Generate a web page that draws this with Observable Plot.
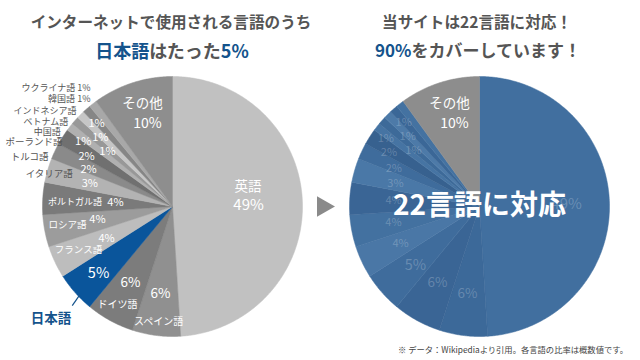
<!DOCTYPE html>
<html><head><meta charset="utf-8">
<script src="https://cdn.jsdelivr.net/npm/d3@7"></script>
<script src="https://cdn.jsdelivr.net/npm/@observablehq/plot@0.6"></script>
<style>
body{margin:0;width:640px;height:360px;overflow:hidden;background:#fff;position:relative;font-family:"Noto Sans CJK JP","Noto Sans",sans-serif}
#chart{position:absolute;left:0;top:0}
.t{position:absolute;transform:translateX(-50%);white-space:nowrap;font-weight:bold;color:#555;line-height:1}
.b{color:#14538c}
.cap{position:absolute;right:12px;top:345px;font-size:8.3px;color:#444;line-height:1;white-space:nowrap}
</style></head><body>
<div id="chart"></div>
<div class="t" style="left:171px;top:14px;font-size:15.6px">インターネットで使用される言語のうち</div>
<div class="t" style="left:172px;top:41px;font-size:18px"><span class="b">日本語</span>はたった<span class="b">5%</span></div>
<div class="t" style="left:477px;top:14px;font-size:15.6px">当サイトは22言語に対応！</div>
<div class="t" style="left:478px;top:41px;font-size:17px"><span class="b">90%</span>をカバーしています！</div>
<div class="cap">※ データ：Wikipediaより引用。各言語の比率は概数値です。</div>
<script>
// ---- data ----
const languages = ["英語","スペイン語","ドイツ語","日本語","フランス語","ロシア語","ポルトガル語","イタリア語","トルコ語","ポーランド語","中国語","ベトナム語","インドネシア語","韓国語","ウクライナ語","その他"];
const shares = [49,6,6,5,4,4,4,3,2,2,1,1,1,1,1,10];
const rightTitle = "22言語に対応";

// ---- styles ----
const leftColors = ["#c1c1c1","#909090","#7c7c7c","#0a559b","#bdbdbd","#9c9c9c","#7a7a7a","#b3b3b3","#8a8a8a","#707070","#b0b0b0","#989898","#c6c6c6","#868686","#a8a8a8","#8e8e8e"];
const rightColors = ["#416f9f","#3c6999","#3a6595","#3f6c9c","#4a77a6","#4371a0","#3a6595","#4a78a7","#3f6c9c","#37618f","#4674a3","#3d6a99","#4d7aa8","#3b6797","#4472a1","#8d8d8d"];
// label layout: radius fraction & angle offset (deg) from slice mid-angle
const leftNameLayout = [
  {r:.60,da:-12.9,size:13.5,fill:"#fff"},
  {r:.89,da:-0.3,size:10,fill:"#fff"},
  {r:.865,da:0.5,size:10,fill:"#fff"},
  null,
  {r:.795,da:0.6,size:9.5,fill:"#fff"},
  {r:.82,da:1.1,size:9.5,fill:"#fff"},
  {r:.75,da:-1.2,size:9,fill:"#fff"},
  {r:.98,da:-1.6,size:9.5,fill:"#555"},
  {r:1.025,da:-3.6,size:9.5,fill:"#555",anchor:"end"},
  {r:.98,da:-2.2,size:9.5,fill:"#555",anchor:"end"},
  {r:1.03,da:-4.3,size:9,fill:"#555",anchor:"end"},
  {r:1.03,da:-2.5,size:9,fill:"#555",anchor:"end"},
  {r:1.04,da:-0.3,size:9,fill:"#555",anchor:"end"},
  {r:1.037,da:3.9,size:9,fill:"#555",anchor:"end",withPct:true},
  {r:1.11,da:3.2,size:9,fill:"#555",anchor:"end",withPct:true},
  {r:.825,da:1.8,size:13.5,fill:"#fff"}
];
const leftPctLayout = [
  {r:.585,da:1,size:15},{r:.676,da:.7,size:13.5},{r:.668,da:.1,size:13.5},{r:.768,da:-.8,size:14.5},
  {r:.564,da:-.7,size:11},{r:.586,da:1,size:11},{r:.44,da:.3,size:11},{r:.66,da:-.7,size:11},
  {r:.706,da:-1.4,size:11},{r:.765,da:-2.2,size:11},{r:.85,da:-1.7,size:11},{r:.655,da:-1.2,size:11},
  {r:.77,da:-1.2,size:11},{r:.865,da:-1.1,size:11},null,{r:.667,da:1.2,size:14}
];
const rightPctLayout = [
  {r:.67,da:0,size:15},{r:.676,da:.7,size:13.5},{r:.668,da:.1,size:13.5},{r:.67,da:-1.3,size:14.5},
  {r:.67,da:.1,size:11},{r:.673,da:.3,size:11},{r:.663,da:.4,size:11},{r:.67,da:-.9,size:11},
  {r:.72,da:-1.4,size:11},{r:.81,da:-1.7,size:11},{r:.89,da:-1.9,size:11},{r:.666,da:-1.1,size:11},
  {r:.77,da:-.8,size:11},{r:.87,da:-.7,size:11},null,{r:.667,da:1.2,size:14}
];

const R = 130;
const leftC = {x:172, y:206};
const rightC = {x:479, y:206};
const pieArcs = d3.pie().sort(null).value(d => d)(shares);
const rad = Math.PI/180;

function polar(c, a, r){ return {x: c.x + r*R*Math.sin(a), y: c.y - r*R*Math.cos(a)}; }

function slices(c, colors){
  return pieArcs.map((a,i) => {
    const pts = [{x:c.x,y:c.y}];
    const n = Math.max(2, Math.ceil((a.endAngle - a.startAngle)/(0.5*rad)));
    for (let k=0;k<=n;k++){
      const ang = a.startAngle + (a.endAngle - a.startAngle)*k/n;
      pts.push(polar(c, ang, 1));
    }
    pts.push({x:c.x,y:c.y});
    return {pts, color: colors[i]};
  });
}
const mid = a => (a.startAngle + a.endAngle)/2;

const labels = [];
pieArcs.forEach((a,i) => {
  const nl = leftNameLayout[i];
  if (nl){
    const p = polar(leftC, mid(a) + nl.da*rad, nl.r);
    labels.push({...p, text: languages[i] + (nl.withPct ? " " + shares[i] + "%" : ""), size: nl.size, fill: nl.fill, anchor: nl.anchor || "middle"});
  }
  const pl = leftPctLayout[i];
  if (pl){
    const p = polar(leftC, mid(a) + pl.da*rad, pl.r);
    labels.push({...p, text: shares[i] + "%", size: pl.size, fill: "#fff", anchor:"middle"});
  }
  const rl = rightPctLayout[i];
  if (rl){
    const p = polar(rightC, mid(a) + rl.da*rad, rl.r);
    const isOther = i === languages.length - 1;
    labels.push({...p, text: shares[i] + "%", size: rl.size, fill: isOther ? "#fff" : "rgba(255,255,255,0.22)", anchor:"middle"});
  }
});
// right "その他" name
{
  const i = languages.length - 1, a = pieArcs[i], nl = leftNameLayout[i];
  labels.push({...polar(rightC, mid(a) + nl.da*rad, nl.r), text: languages[i], size: nl.size, fill:"#fff", anchor:"middle"});
}
// Japanese callout
const jp = pieArcs[3];
const jpLabel = [{...polar(leftC, mid(jp) - 1.2*rad, 1.27), text: languages[3]}];
const jpLeader = [{a: polar(leftC, mid(jp) - 2.2*rad, 0.985), b: polar(leftC, mid(jp) - 3.3*rad, 1.085)}];
const arrowPos = [{x: (leftC.x + R + rightC.x - R)/2, y: leftC.y}];

const marks = [];
for (const s of slices(leftC, leftColors)) marks.push(Plot.line(s.pts, {x:"x", y:"y", fill:s.color, stroke:s.color, strokeWidth:0.5, curve:"linear"}));
for (const s of slices(rightC, rightColors)) marks.push(Plot.line(s.pts, {x:"x", y:"y", fill:s.color, stroke:s.color, strokeWidth:0.5, curve:"linear"}));
for (const anchor of ["middle","end"]) {
  marks.push(Plot.text(labels.filter(d => d.anchor === anchor), {x:"x", y:"y", text:"text", fill:"fill", fontSize:"size", textAnchor:anchor}));
}
marks.push(Plot.link(jpLeader, {x1: d=>d.a.x, y1: d=>d.a.y, x2: d=>d.b.x, y2: d=>d.b.y, stroke:"#14538c", strokeWidth:1.2}));
marks.push(Plot.text(jpLabel, {x:"x", y:"y", text:"text", fill:"#14538c", fontSize:13.5, fontWeight:"bold"}));
marks.push(Plot.text([{...rightC, text: rightTitle}], {x:"x", y:"y", text:"text", fill:"#fff", fontSize:28, fontWeight:"bold"}));
marks.push(Plot.dot(arrowPos, {x:"x", y:"y", symbol:"triangle", rotate:90, r:7.7, fill:"#8a8a8a", stroke:null, dx:-3}));

const chart = Plot.plot({
  width:640, height:360, margin:0,
  x:{domain:[0,640], range:[0,640], axis:null},
  y:{domain:[0,360], range:[0,360], axis:null},
  color:{type:"identity"},
  style:{fontFamily:'"Noto Sans CJK JP","Noto Sans",sans-serif', background:"transparent"},
  marks
});
document.getElementById("chart").appendChild(chart);
</script>
</body></html>
